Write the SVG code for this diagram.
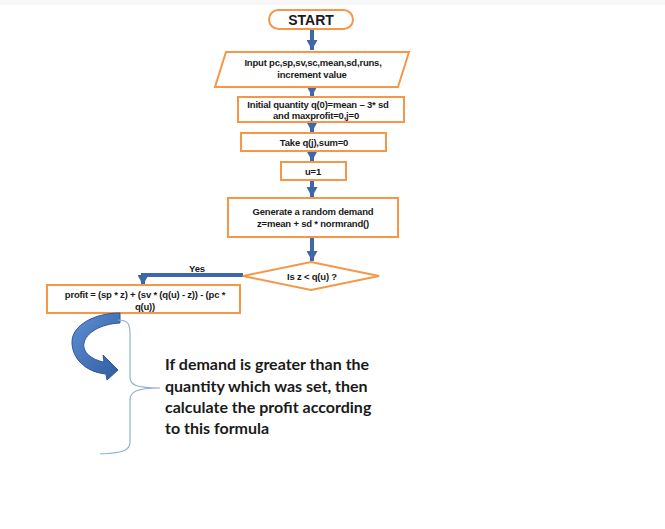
<svg xmlns="http://www.w3.org/2000/svg" width="665" height="529" viewBox="0 0 665 529">
<defs>
<marker id="ah" markerUnits="userSpaceOnUse" markerWidth="12" markerHeight="11" refX="10" refY="5.5" orient="auto">
<path d="M0,0 L10,5.5 L0,11 Z" fill="#3d6aa6"/>
</marker>
<linearGradient id="cg" x1="0" y1="0" x2="1" y2="1">
<stop offset="0" stop-color="#5f90d4"/>
<stop offset="1" stop-color="#2d5c9e"/>
</linearGradient>
<style>
.n{fill:#fff;stroke:#f79646;stroke-width:2}
.t{font-family:"Liberation Sans",Arial,sans-serif;font-weight:bold;font-size:9.5px;fill:#1a1a1a;text-anchor:middle;letter-spacing:-0.2px}
.c{fill:none;stroke:#3d6aa6;stroke-width:4;marker-end:url(#ah)}
.note{font-family:Lato,"Liberation Sans",sans-serif;font-weight:bold;font-size:16px;fill:#1a1a1a}
</style>
</defs>
<rect x="0" y="0" width="665" height="529" fill="#fff"/>
<rect x="0" y="0" width="665" height="5" fill="#f8f8f8"/>
<g id="connectors">
<path class="c" d="M312,28 V50"/>
<path class="c" d="M312,87 V96"/>
<path class="c" d="M312,122 V132"/>
<path class="c" d="M312,151 V161"/>
<path class="c" d="M312,180 V197"/>
<path class="c" d="M312,237 V261"/>
<path class="c" d="M243,275 H143 V285"/>
<text class="t" x="197" y="272">Yes</text>
</g>
<g id="start">
<rect class="n" x="269" y="10" width="84" height="19" rx="9.5"/>
<text x="311" y="24.5" font-family="Liberation Sans,Arial,sans-serif" font-weight="bold" font-size="14" text-anchor="middle" fill="#1a1a1a">START</text>
</g>
<g id="input">
<polygon class="n" points="226,52 409,52 398,87 215,87"/>
<text class="t" x="313" y="66">Input pc,sp,sv,sc,mean,sd,runs,</text>
<text class="t" x="312" y="78">increment  value</text>
</g>
<g id="initial">
<rect class="n" x="238" y="97" width="166" height="25"/>
<text class="t" x="318" y="108">Initial quantity q(0)=mean – 3* sd</text>
<text class="t" x="316" y="119">and maxprofit=0,j=0</text>
</g>
<g id="take">
<rect class="n" x="241" y="133" width="145" height="18"/>
<text class="t" x="314" y="145.5">Take q(j),sum=0</text>
</g>
<g id="u1">
<rect class="n" x="281" y="162" width="65" height="18"/>
<text class="t" x="313" y="175">u=1</text>
</g>
<g id="generate">
<rect class="n" x="228" y="198" width="170" height="39"/>
<text class="t" x="313" y="215">Generate a random demand</text>
<text class="t" x="313" y="227">z=mean + sd *  normrand()</text>
</g>
<g id="decision">
<polygon class="n" points="243,276 311,262 379,276 311,290"/>
<text class="t" x="312" y="280">Is z &lt; q(u) ?</text>
</g>
<g id="profit">
<rect class="n" x="47" y="285" width="193" height="28"/>
<text class="t" x="145" y="297.5">profit = (sp * z) + (sv * (q(u) - z)) - (pc *</text>
<text class="t" x="145" y="310">q(u))</text>
</g>
<g id="curved-arrow">
<path d="M120,313 C95,313 72,325 72,342 C72,358 85,372 106,374 L107,380 L118,370 L103,355 L104,362 C92,360 82,352 84,343 C86,333 100,324 120,323 Z" fill="url(#cg)" stroke="#2f5597" stroke-width="1"/>
</g>
<g id="brace">
<path d="M118,320 C128,320 130,324 130,334 L130,377 C130,385 136,388 160,388 C136,388 130,392 130,400 L130,442 C130,451 122,453 100,454" fill="none" stroke="#8fb0d8" stroke-width="1.2"/>
</g>
<g id="note">
<text class="note" x="165" y="370">If demand is greater than the</text>
<text class="note" x="165" y="392">quantity which was set, then</text>
<text class="note" x="165" y="413">calculate the profit according</text>
<text class="note" x="165" y="434">to this formula</text>
</g>
</svg>
